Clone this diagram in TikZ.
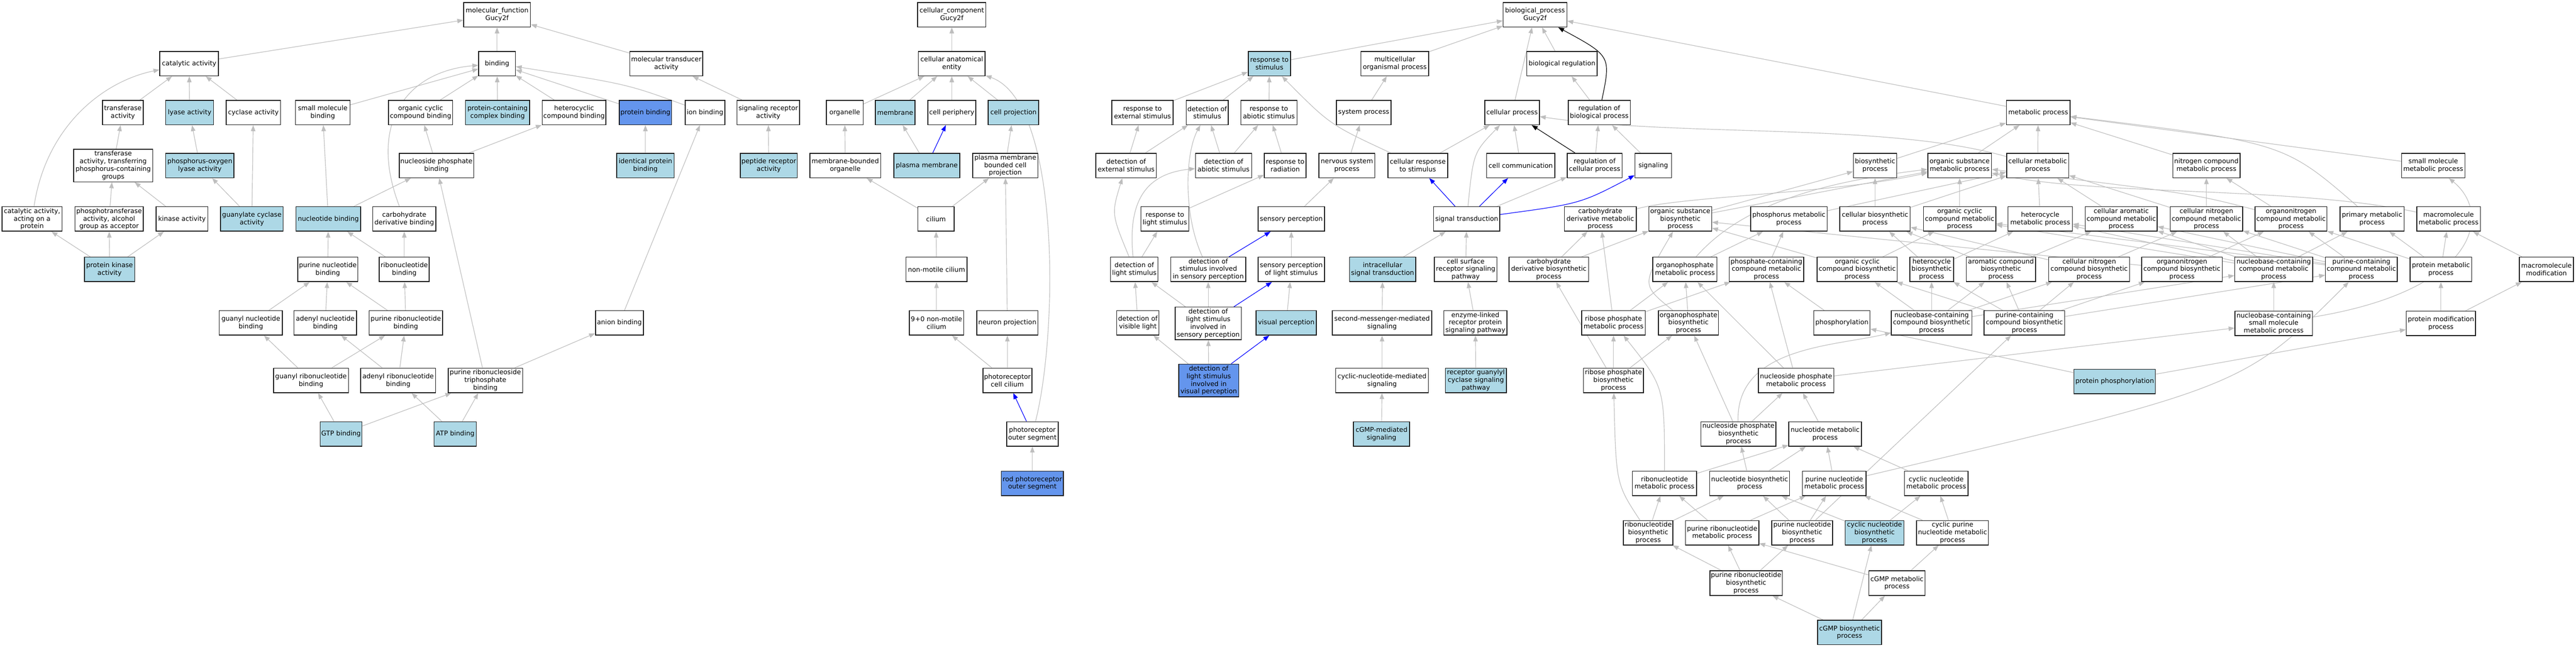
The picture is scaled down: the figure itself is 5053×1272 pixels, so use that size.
\documentclass[tikz,border=0pt]{standalone}
\usepackage{fontspec}
\usetikzlibrary{arrows.meta,backgrounds}
\newfontfamily\fnt{DejaVu Sans}
\definecolor{edgegray}{RGB}{190,190,190}
\definecolor{lblue}{RGB}{173,216,230}
\definecolor{cblue}{RGB}{100,149,237}
\tikzset{
  box/.style={draw=black!90, line width=1.3pt, fill=white, inner sep=0pt, align=center,
    font={\fnt\fontsize{11}{12.8}\selectfont}, minimum height=1.44cm},
  bw/.style={minimum width=#1*0.03cm},
  tall/.style={minimum height=1.92cm},
  hb/.style={fill=lblue},
  hc/.style={fill=cblue},
  edge/.style={draw=edgegray, line width=1pt, -{Triangle[length=10pt,width=7.5pt]}},
  bedge/.style={draw=blue, line width=1pt, -{Triangle[length=10pt,width=7.5pt]}},
  kedge/.style={draw=black, line width=1pt, -{Triangle[length=10pt,width=7.5pt]}}
}
\begin{document}
\begin{tikzpicture}[x=0.03cm,y=-0.03cm]
\useasboundingbox (0,0) rectangle (5053,1272);
% ---------------- molecular function ----------------
\node[box,bw=131] (mf) at (975,29) {molecular\_function\\Gucy2f};
\node[box,bw=115] (ca) at (371,125) {catalytic activity};
\node[box,bw=72] (bind) at (975,125) {binding};
\node[box,bw=143] (mta) at (1307,125) {molecular transducer\\activity};
\node[box,bw=80] (ta) at (241,221) {transferase\\activity};
\node[box,bw=94,hb] (lyase) at (372,221) {lyase activity};
\node[box,bw=107] (cyc) at (497,221) {cyclase activity};
\node[box,bw=107] (smb) at (633,221) {small molecule\\binding};
\node[box,bw=126] (occb) at (825,221) {organic cyclic\\compound binding};
\node[box,bw=126,hb] (pccb) at (976,221) {protein-containing\\complex binding};
\node[box,bw=125] (hcb) at (1126,221) {heterocyclic\\compound binding};
\node[box,bw=103,hc] (pb) at (1266,221) {protein binding};
\node[box,bw=78] (ib) at (1383,221) {ion binding};
\node[box,bw=123] (sra) at (1507,221) {signaling receptor\\activity};
\node[box,bw=155,tall] (tatp) at (222,325) {transferase\\activity, transferring\\phosphorus-containing\\groups};
\node[box,bw=134,hb] (pol) at (392,325) {phosphorus-oxygen\\lyase activity};
\node[box,bw=146] (npb) at (856,325) {nucleoside phosphate\\binding};
\node[box,bw=113,hb] (ipb) at (1266,325) {identical protein\\binding};
\node[box,bw=112,hb] (pra) at (1508,325) {peptide receptor\\activity};
\node[box,bw=118] (caap) at (63,430) {catalytic activity,\\acting on a\\protein};
\node[box,bw=134] (ptaa) at (214,430) {phosphotransferase\\activity, alcohol\\group as acceptor};
\node[box,bw=102] (ka) at (357,430) {kinase activity};
\node[box,bw=123,hb] (gca) at (494,430) {guanylate cyclase\\activity};
\node[box,bw=127,hb] (nb) at (644,430) {nucleotide binding};
\node[box,bw=124] (cdb) at (793,430) {carbohydrate\\derivative binding};
\node[box,bw=99,hb] (pka) at (215,529) {protein kinase\\activity};
\node[box,bw=118] (pnb) at (643,529) {purine nucleotide\\binding};
\node[box,bw=98] (rb) at (793,529) {ribonucleotide\\binding};
\node[box,bw=124] (gnb) at (492,634) {guanyl nucleotide\\binding};
\node[box,bw=123] (anb) at (638,634) {adenyl nucleotide\\binding};
\node[box,bw=144] (prb) at (796,634) {purine ribonucleotide\\binding};
\node[box,bw=94] (anion) at (1215,634) {anion binding};
\node[box,bw=147] (grb) at (610,747) {guanyl ribonucleotide\\binding};
\node[box,bw=147] (arb) at (781,747) {adenyl ribonucleotide\\binding};
\node[box,bw=146] (prtb) at (952,747) {purine ribonucleoside\\triphosphate\\binding};
\node[box,bw=82,hb] (gtp) at (669,852) {GTP binding};
\node[box,bw=83,hb] (atp) at (893,852) {ATP binding};
% ---------------- cellular component ----------------
\node[box,bw=134] (cc) at (1867,29) {cellular\_component\\Gucy2f};
\node[box,bw=131] (cae) at (1867,125) {cellular anatomical\\entity};
\node[box,bw=72] (org) at (1657,221) {organelle};
\node[box,bw=78,hb] (mem) at (1756,221) {membrane};
\node[box,bw=94] (cp) at (1867,221) {cell periphery};
\node[box,bw=99,hb] (cproj) at (1988,221) {cell projection};
\node[box,bw=139] (mbo) at (1658,325) {membrane-bounded\\organelle};
\node[box,bw=129,hb] (pm) at (1818,325) {plasma membrane};
\node[box,bw=128] (pmbcp) at (1972,325) {plasma membrane\\bounded cell\\projection};
\node[box,bw=71] (cil) at (1836,430) {cilium};
\node[box,bw=120] (nmc) at (1837,529) {non-motile cilium};
\node[box,bw=107] (nmc9) at (1837,634) {9+0 non-motile\\cilium};
\node[box,bw=120] (np) at (1976,634) {neuron projection};
\node[box,bw=96] (pcc) at (1976,747) {photoreceptor\\cell cilium};
\node[box,bw=101] (pos) at (2025,852) {photoreceptor\\outer segment};
\node[box,bw=122,hc] (rpos) at (2025,949) {rod photoreceptor\\outer segment};
% ---------------- biological process ----------------
\node[box,bw=125] (bp) at (3011,29) {biological\_process\\Gucy2f};
\node[box,bw=83,hb] (rts) at (2490,125) {response to\\stimulus};
\node[box,bw=133] (mop) at (2736,125) {multicellular\\organismal process};
\node[box,bw=138] (breg) at (3064,125) {biological regulation};
\node[box,bw=120] (rtes) at (2241,221) {response to\\external stimulus};
\node[box,bw=82] (dos) at (2368,221) {detection of\\stimulus};
\node[box,bw=110] (rtas) at (2489,221) {response to\\abiotic stimulus};
\node[box,bw=107] (sp) at (2675,221) {system process};
\node[box,bw=107] (cproc) at (2966,221) {cellular process};
\node[box,bw=122] (rbp) at (3137,221) {regulation of\\biological process};
\node[box,bw=119] (does) at (2209,325) {detection of\\external stimulus};
\node[box,bw=110] (doas) at (2400,325) {detection of\\abiotic stimulus};
\node[box,bw=82] (rtr) at (2521,325) {response to\\radiation};
\node[box,bw=110] (nsp) at (2642,325) {nervous system\\process};
\node[box,bw=117] (crts) at (2781,325) {cellular response\\to stimulus};
\node[box,bw=134] (ccomm) at (2983,325) {cell communication};
\node[box,bw=108] (rcp) at (3128,325) {regulation of\\cellular process};
\node[box,bw=72] (sig) at (3243,325) {signaling};
\node[box,bw=94] (rtls) at (2285,430) {response to\\light stimulus};
\node[box,bw=130] (sper) at (2533,430) {sensory perception};
\node[box,bw=130] (st) at (2877,430) {signal transduction};
\node[box,bw=93] (dols) at (2225,529) {detection of\\light stimulus};
\node[box,bw=147] (dosisp) at (2370,529) {detection of\\stimulus involved\\in sensory perception};
\node[box,bw=130] (spls) at (2533,529) {sensory perception\\of light stimulus};
\node[box,bw=130,hb] (ist) at (2712,529) {intracellular\\signal transduction};
\node[box,bw=123] (csrsp) at (2875,529) {cell surface\\receptor signaling\\pathway};
\node[box,bw=83] (dovl) at (2232,634) {detection of\\visible light};
\node[box,bw=130,tall] (dolsisp) at (2370,635) {detection of\\light stimulus\\involved in\\sensory perception};
\node[box,bw=118,hb] (vp) at (2523,634) {visual perception};
\node[box,bw=195] (smms) at (2711,634) {second-messenger-mediated\\signaling};
\node[box,bw=124] (elrp) at (2894,634) {enzyme-linked\\receptor protein\\signaling pathway};
\node[box,bw=118,tall,hc] (dolsivp) at (2371,747) {detection of\\light stimulus\\involved in\\visual perception};
\node[box,bw=182] (cnms) at (2711,747) {cyclic-nucleotide-mediated\\signaling};
\node[box,bw=120,hb] (rgcsp) at (2895,747) {receptor guanylyl\\cyclase signaling\\pathway};
\node[box,bw=110,hb] (cgmpms) at (2710,852) {cGMP-mediated\\signaling};
% metabolic
\node[box,bw=125] (metab) at (3998,221) {metabolic process};
\node[box,bw=85] (bsp) at (3678,325) {biosynthetic\\process};
\node[box,bw=125] (osmp) at (3844,325) {organic substance\\metabolic process};
\node[box,bw=122] (cmp) at (3997,325) {cellular metabolic\\process};
\node[box,bw=132] (ncmp) at (4328,325) {nitrogen compound\\metabolic process};
\node[box,bw=124] (smmp) at (4773,325) {small molecule\\metabolic process};
\node[box,bw=141] (cdmp) at (3139,430) {carbohydrate\\derivative metabolic\\process};
\node[box,bw=123] (osbp) at (3296,430) {organic substance\\biosynthetic\\process};
\node[box,bw=150] (phmp) at (3509,430) {phosphorus metabolic\\process};
\node[box,bw=138] (cbp) at (3678,430) {cellular biosynthetic\\process};
\node[box,bw=142] (occmp) at (3844,430) {organic cyclic\\compound metabolic\\process};
\node[box,bw=126] (hmp) at (4002,430) {heterocycle\\metabolic process};
\node[box,bw=141] (cacmp) at (4161,430) {cellular aromatic\\compound metabolic\\process};
\node[box,bw=142] (cncmp) at (4328,430) {cellular nitrogen\\compound metabolic\\process};
\node[box,bw=141] (oncmp) at (4494,430) {organonitrogen\\compound metabolic\\process};
\node[box,bw=126] (pmp) at (4653,430) {primary metabolic\\process};
\node[box,bw=125] (mmp) at (4803,430) {macromolecule\\metabolic process};
\node[box,bw=156] (cdbp) at (3038,529) {carbohydrate\\derivative biosynthetic\\process};
\node[box,bw=126] (opmp) at (3305,529) {organophosphate\\metabolic process};
\node[box,bw=146] (pccmp) at (3465,529) {phosphate-containing\\compound metabolic\\process};
\node[box,bw=157] (occbp) at (3643,529) {organic cyclic\\compound biosynthetic\\process};
\node[box,bw=86] (hbp) at (3789,529) {heterocycle\\biosynthetic\\process};
\node[box,bw=136] (acbp) at (3925,529) {aromatic compound\\biosynthetic\\process};
\node[box,bw=159] (cncbp) at (4098,529) {cellular nitrogen\\compound biosynthetic\\process};
\node[box,bw=158] (oncbp) at (4280,529) {organonitrogen\\compound biosynthetic\\process};
\node[box,bw=153] (nccmp) at (4460,529) {nucleobase-containing\\compound metabolic\\process};
\node[box,bw=141] (pcmp) at (4632,529) {purine-containing\\compound metabolic\\process};
\node[box,bw=121] (prmp) at (4788,529) {protein metabolic\\process};
\node[box,bw=106] (mmod) at (4995,529) {macromolecule\\modification};
\node[box,bw=125] (rpmp) at (3165,634) {ribose phosphate\\metabolic process};
\node[box,bw=118] (opbp) at (3312,634) {organophosphate\\biosynthetic\\process};
\node[box,bw=110] (phos) at (3613,634) {phosphorylation};
\node[box,bw=158] (nccbp) at (3789,634) {nucleobase-containing\\compound biosynthetic\\process};
\node[box,bw=158] (pcbp) at (3971,634) {purine-containing\\compound biosynthetic\\process};
\node[box,bw=152] (ncsmmp) at (4460,635) {nucleobase-containing\\small molecule\\metabolic process};
\node[box,bw=136] (pmodp) at (4788,635) {protein modification\\process};
\node[box,bw=118] (rpbp) at (3165,747) {ribose phosphate\\biosynthetic\\process};
\node[box,bw=148] (nspmp) at (3523,747) {nucleoside phosphate\\metabolic process};
\node[box,bw=160,hb] (pphos) at (4148,749) {protein phosphorylation};
\node[box,bw=147] (nspbp) at (3410,852) {nucleoside phosphate\\biosynthetic\\process};
\node[box,bw=142] (ntmp) at (3580,852) {nucleotide metabolic\\process};
\node[box,bw=126] (rnmp) at (3265,949) {ribonucleotide\\metabolic process};
\node[box,bw=157] (ntbp) at (3432,949) {nucleotide biosynthetic\\process};
\node[box,bw=125] (pnmp) at (3598,949) {purine nucleotide\\metabolic process};
\node[box,bw=125] (cnmp) at (3798,949) {cyclic nucleotide\\metabolic process};
\node[box,bw=97] (rnbp) at (3233,1046) {ribonucleotide\\biosynthetic\\process};
\node[box,bw=144] (prnmp) at (3378,1046) {purine ribonucleotide\\metabolic process};
\node[box,bw=119] (pnbp) at (3535,1046) {purine nucleotide\\biosynthetic\\process};
\node[box,bw=115,hb] (cnbp) at (3677,1046) {cyclic nucleotide\\biosynthetic\\process};
\node[box,bw=141] (cpnmp) at (3830,1046) {cyclic purine\\nucleotide metabolic\\process};
\node[box,bw=142] (prnbp) at (3425,1145) {purine ribonucleotide\\biosynthetic\\process};
\node[box,bw=110] (cgmpmp) at (3721,1145) {cGMP metabolic\\process};
\node[box,bw=125,hb] (cgmpbp) at (3628,1242) {cGMP biosynthetic\\process};
% ---------------- edges ----------------
\begin{pgfonlayer}{background}
\foreach \a/\b in {ca/mf, bind/mf, mta/mf, ta/ca, lyase/ca, cyc/ca, smb/bind, occb/bind,
  pccb/bind, hcb/bind, pb/bind, sra/mta, pra/sra, ipb/pb, anion/ib, tatp/ta, pol/lyase,
  gca/pol, gca/cyc, ptaa/tatp, ka/tatp, pka/caap, pka/ptaa, pka/ka, npb/occb, npb/hcb,
  nb/smb, nb/npb, pnb/nb, rb/nb, rb/cdb, gnb/pnb, anb/pnb, prb/pnb, prb/rb, grb/gnb,
  grb/prb, arb/anb, arb/prb, gtp/grb, gtp/prtb, atp/arb, atp/prtb, prtb/npb, prtb/anion,
  cae/cc, org/cae, mem/cae, cp/cae, cproj/cae, mbo/org, pm/mem, pmbcp/cproj, cil/mbo,
  cil/pmbcp, nmc/cil, nmc9/nmc, np/pmbcp, pcc/nmc9, pcc/np, rpos/pos,
  rts/bp, mop/bp, cproc/bp, breg/bp, metab/bp, rtes/rts, dos/rts, rtas/rts, sp/mop,
  rbp/breg, does/rtes, does/dos, doas/dos, doas/rtas, rtr/rtas, nsp/sp, crts/cproc,
  ccomm/cproc, rcp/rbp, sig/rbp, st/rcp, rtls/rtr, sper/nsp, dols/rtls, spls/sper,
  ist/st, csrsp/st, dovl/dols, dolsisp/dols, dolsisp/dosisp, vp/spls, smms/ist,
  elrp/csrsp, dolsivp/dovl, dolsivp/dolsisp, cnms/smms, rgcsp/elrp, cgmpms/cnms}
  \draw[edge] (\a) -- (\b);
\foreach \a/\b in {bsp/metab, osmp/metab, cmp/metab, ncmp/metab, smmp/metab, osbp/bsp,
  osbp/osmp, cbp/bsp, cbp/cmp, phmp/cmp, occmp/osmp, hmp/cmp, cacmp/cmp, cncmp/cmp,
  cncmp/ncmp, oncmp/ncmp, cdbp/cdmp, cdbp/osbp, opmp/phmp, pccmp/phmp, occbp/occmp,
  occbp/osbp, hbp/cbp, hbp/hmp, acbp/cbp, acbp/cacmp, cncbp/cncmp, cncbp/cbp,
  oncbp/oncmp, oncbp/osbp, nccmp/cacmp, nccmp/hmp, nccmp/occmp, nccmp/cncmp, nccmp/pmp,
  pcmp/cacmp, pcmp/hmp, pcmp/occmp, pcmp/oncmp, pcmp/cncmp, prmp/oncmp, prmp/pmp,
  prmp/mmp, mmod/mmp, rpmp/cdmp, rpmp/opmp, rpmp/pccmp, opbp/opmp, phos/pccmp,
  nccbp/occbp, nccbp/hbp, nccbp/acbp, nccbp/cncbp, nccbp/nccmp, pcbp/occbp, pcbp/hbp,
  pcbp/acbp, pcbp/cncbp, pcbp/oncbp, pcbp/pcmp, ncsmmp/nccmp, pmodp/prmp, pmodp/mmod,
  pphos/pmodp, pphos/phos, rpbp/rpmp, rpbp/opbp, rpbp/cdbp, nspmp/opmp, nspmp/pccmp,
  nspmp/ncsmmp, nspbp/nspmp, nspbp/opbp, ntmp/nspmp, rnmp/ntmp, ntbp/nspbp, ntbp/ntmp,
  pnmp/ntmp, cnmp/ntmp, rnbp/rnmp, rnbp/ntbp, prnmp/rnmp, prnmp/pnmp, pnbp/ntbp,
  pnbp/pnmp, cnbp/ntbp, cnbp/cnmp, cpnmp/pnmp, cpnmp/cnmp, prnbp/rnbp, prnbp/prnmp,
  prnbp/pnbp, cgmpmp/prnmp, cgmpmp/cpnmp, cgmpbp/prnbp, cgmpbp/cnbp, cgmpbp/cgmpmp,
  pnbp/pcbp}
  \draw[edge] (\a) -- (\b);
% curved grey edges
\draw[edge] (caap) .. controls (90,250) and (200,160) .. (ca);
\draw[edge] (cdb) .. controls (720,240) and (800,140) .. (bind);
\draw[edge] (ib) .. controls (1230,165) .. (bind);
\draw[edge] (pos) .. controls (2076,650) and (2080,200) .. (cae);
\draw[edge] (crts) .. controls (2609,245) .. (rts);
\draw[edge] (st) .. controls (2890,300) .. (cproc);
\draw[edge] (dols) .. controls (2180,420) .. (does);
\draw[edge] (dols) .. controls (2210,380) and (2260,340) .. (doas);
\draw[edge] (dosisp) .. controls (2320,420) and (2325,300) .. (dos);
\draw[edge] (cmp) .. controls (3700,240) and (3300,270) .. (cproc);
\draw[edge] (cdmp) .. controls (3300,385) and (3600,380) .. (osmp);
\draw[edge] (opmp) .. controls (3410,410) and (3550,360) .. (osmp);
\draw[edge] (opbp) .. controls (3220,560) .. (osbp);
\draw[edge] (rnmp) .. controls (3265,760) .. (rpmp);
\draw[edge] (rnbp) .. controls (3170,950) .. (rpbp);
\draw[edge] (nspbp) .. controls (3405,680) and (3600,680) .. (nccbp);
\draw[edge] (pmp) .. controls (4480,280) .. (metab);
\draw[edge] (ncsmmp) .. controls (4860,570) and (4890,420) .. (smmp);
\draw[edge] (mmp) .. controls (4500,365) and (4100,385) .. (osmp);
\draw[edge] (oncmp) .. controls (4300,380) .. (osmp);
\draw[edge] (pnmp) .. controls (4400,760) .. (pcmp);
% blue edges
\draw[bedge] (pm) -- (cp);
\draw[bedge] (pos) -- (pcc);
\draw[bedge] (st) -- (crts);
\draw[bedge] (st) -- (ccomm);
\draw[bedge] (dosisp) -- (sper);
\draw[bedge] (dolsisp) -- (spls);
\draw[bedge] (dolsivp) -- (vp);
\draw[bedge] (st) .. controls (3100,400) .. (sig);
% black edges
\draw[kedge] (rcp) -- (cproc);
\draw[kedge] (rbp) .. controls (3160,110) .. (bp);
\end{pgfonlayer}
\end{tikzpicture}
\end{document}
